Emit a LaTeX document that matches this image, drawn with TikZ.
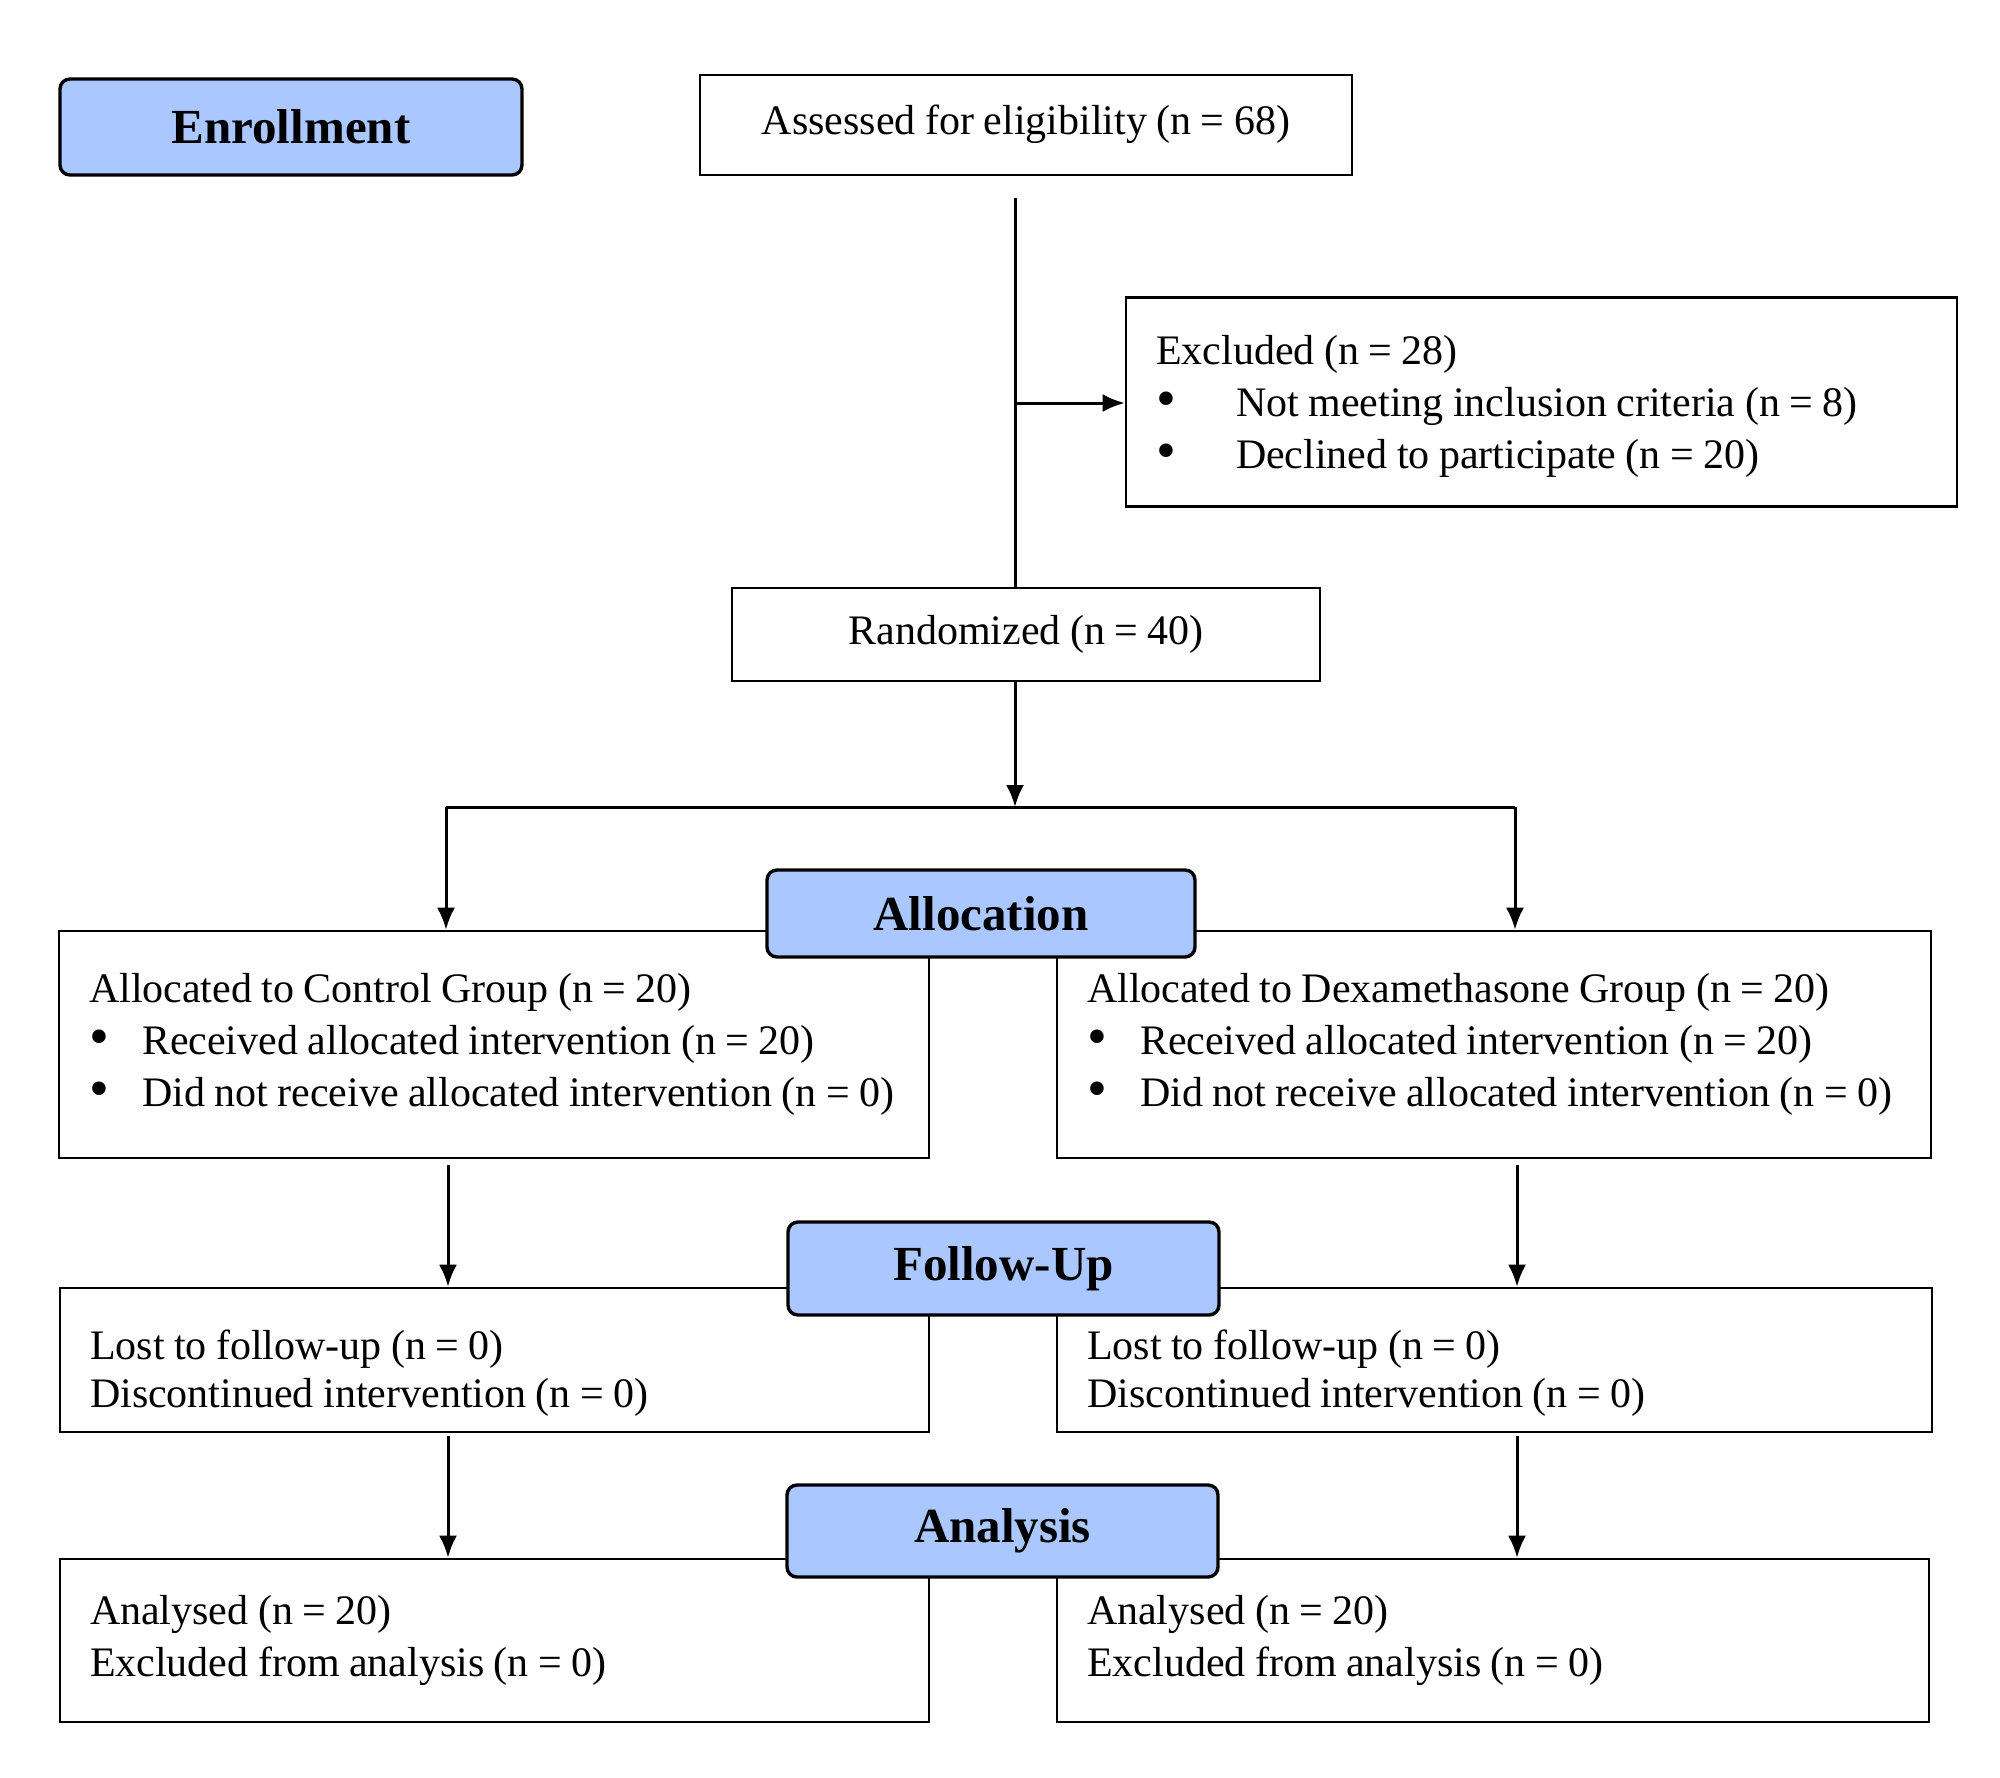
\documentclass[tikz,border=0pt]{standalone}
\usepackage{fontspec}
\setmainfont{Liberation Serif}[WordSpace=0.9]
\usetikzlibrary{arrows.meta}
\definecolor{lblblue}{RGB}{170,200,255}
\tikzset{
  box/.style={draw=black, line width=1.3pt, fill=white, inner xsep=15pt, inner ysep=0pt,
    font=\fontsize{21}{26}\selectfont, align=flush left},
  cbox/.style={box, align=center},
  stage/.style={draw=black, line width=1.7pt, rounded corners=5pt, fill=lblblue,
    font=\fontsize{24.5}{28}\selectfont\bfseries, align=center, inner sep=0pt},
  conn/.style={line width=1.5pt},
  arr/.style={conn, -{Latex[length=11pt,width=9pt]}}
}
\newcommand{\bul}[1]{\makebox[#1][l]{\raisebox{-0.5pt}{\scalebox{1.35}{\textbullet}}}}
\newcommand{\myline}[1]{\mbox{#1}}
\begin{document}
\begin{tikzpicture}[x=0.5pt,y=-0.5pt]
\useasboundingbox (0,0) rectangle (2000,1777);
% boxes
\node[cbox, minimum width=326pt, minimum height=50pt] (assess) at (1026,125) {\raisebox{5pt}{Assessed for eligibility (n = 68)}};
\node[box, minimum width=415.5pt, minimum height=104.5pt, text width=385.5pt] (exclude) at (1541.5,402)
  {\myline{\rule{0pt}{19pt}Excluded (n = 28)}\\ \myline{\bul{40pt}Not meeting inclusion criteria (n = 8)}\\ \myline{\bul{40pt}Declined to participate (n = 20)}};
\node[cbox, minimum width=294pt, minimum height=46.5pt] (random) at (1026,634.5) {Randomized (n = 40)};
\node[box, minimum width=435pt, minimum height=113.5pt, text width=405pt] (ctrl) at (494,1044.5)
  {\myline{Allocated to Control Group (n = 20)}\\ \myline{\bul{26.5pt}Received allocated intervention (n = 20)}\\ \myline{\bul{26.5pt}Did not receive allocated intervention (n = 0)}};
\node[box, minimum width=437pt, minimum height=113.5pt, text width=407pt] (dexa) at (1494,1044.5)
  {\myline{Allocated to Dexamethasone Group (n = 20)}\\ \myline{\bul{26.5pt}Received allocated intervention (n = 20)}\\ \myline{\bul{26.5pt}Did not receive allocated intervention (n = 0)}};
\node[box, minimum width=434.5pt, minimum height=72pt, text width=404.5pt] (fupL) at (494.5,1360)
  {\myline{\rule{0pt}{28pt}Lost to follow-up (n = 0)}\\[-2.4pt] \myline{Discontinued intervention (n = 0)}};
\node[box, minimum width=437.5pt, minimum height=72pt, text width=407.5pt] (fupR) at (1494.5,1360)
  {\myline{\rule{0pt}{28pt}Lost to follow-up (n = 0)}\\[-2.4pt] \myline{Discontinued intervention (n = 0)}};
\node[box, minimum width=434.5pt, minimum height=81.5pt, text width=404.5pt] (anaL) at (494.5,1640.5)
  {\myline{Analysed (n = 20)}\\ \myline{Excluded from analysis (n = 0)}};
\node[box, minimum width=436pt, minimum height=81.5pt, text width=406pt] (anaR) at (1493,1640.5)
  {\myline{Analysed (n = 20)}\\ \myline{Excluded from analysis (n = 0)}};
% stage labels
\node[stage, minimum width=231pt, minimum height=48pt] (enroll) at (291,127) {Enrollment};
\node[stage, minimum width=214pt, minimum height=43.5pt] (alloc) at (981,913.5) {Allocation};
\node[stage, minimum width=215.5pt, minimum height=46.5pt] (follow) at (1003.5,1268.5) {Follow-Up};
\node[stage, minimum width=215.5pt, minimum height=46pt] (analysis) at (1002.5,1531) {Analysis};
% coordinates
\coordinate (c1) at (1015,198);
\coordinate (c2) at (1015,403);
\coordinate (split) at (1015,807);
\coordinate (sL) at (446,807);
\coordinate (sR) at (1515,807);
\coordinate (a1L) at (448,1165);
\coordinate (a1R) at (1517,1165);
\coordinate (a2L) at (448,1436);
\coordinate (a2R) at (1517,1436);
% connectors
\draw[conn] (c1) -- (c1 |- random.north);
\draw[arr] (c2) -- (exclude.west |- c2);
\draw[arr] (random.south -| c1) -- (split);
\draw[conn] (sL) -- (sR);
\draw[arr] (sL) -- (sL |- ctrl.north);
\draw[arr] (sR) -- (sR |- dexa.north);
\draw[arr] (a1L) -- (a1L |- fupL.north);
\draw[arr] (a1R) -- (a1R |- fupR.north);
\draw[arr] (a2L) -- (a2L |- anaL.north);
\draw[arr] (a2R) -- (a2R |- anaR.north);
\end{tikzpicture}
\end{document}
